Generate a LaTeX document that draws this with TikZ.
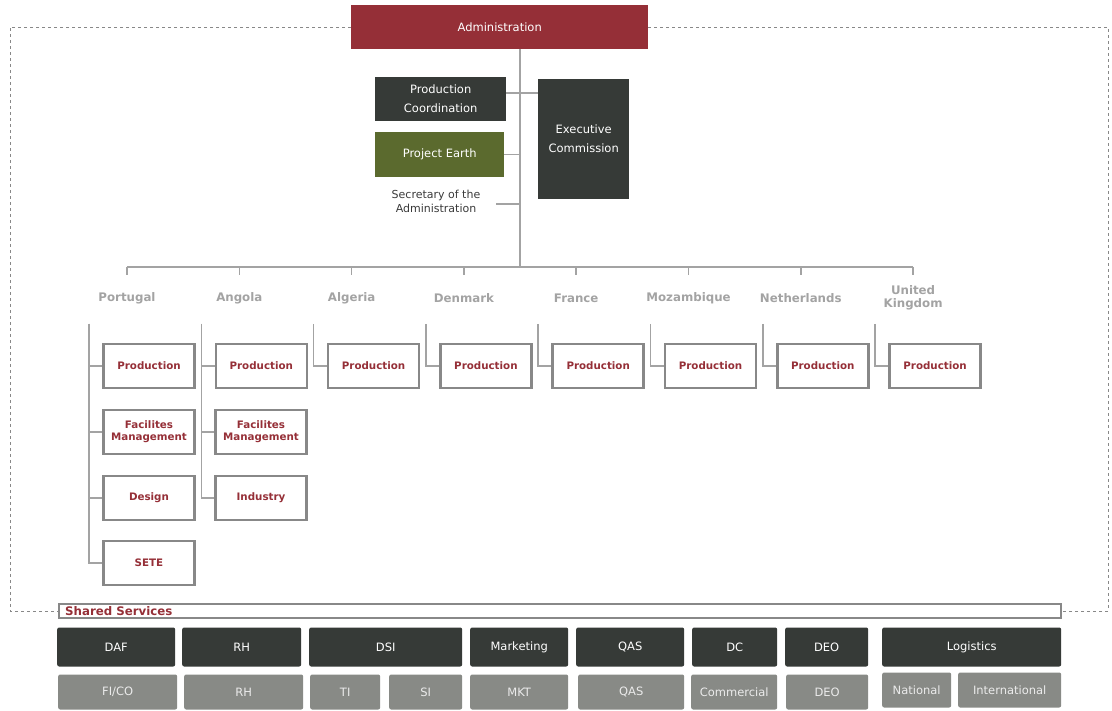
\documentclass[tikz,border=0pt]{standalone}
\usepackage{fontspec}
\setmainfont{DejaVu Sans}
\definecolor{Wine}{HTML}{952F37}
\definecolor{Slate}{HTML}{363A37}
\definecolor{Olive}{HTML}{5B6A2E}
\definecolor{Stone}{HTML}{888A86}
\definecolor{Ash}{HTML}{A3A3A3}
\definecolor{Frame}{HTML}{888888}
\definecolor{Ink}{HTML}{3A3A3A}
\newcommand\textsz[2]{\fontsize{#1}{#2}\selectfont}

\begin{document}
\begin{tikzpicture}[
  x=1pt,
  y=-1pt,
  font=\textsz{11.5}{13},
  every node/.style={inner sep=0pt, align=center},
  dims/.style 2 args={minimum width=#1pt, minimum height=#2pt},
  head/.style={fill=Wine, text=white},
  dark/.style={fill=Slate, text=white},
  earthy/.style={fill=Olive, text=white},
  unit/.style={draw=Frame, line width=2.6pt, text=Wine, dims={91}{44},
    font=\textsz{10.3}{12}\bfseries, align=center},
  country/.style={text=Ash, font=\textsz{11.8}{13}\bfseries},
  service/.style={fill=Slate, text=white, rounded corners=2pt, minimum height=39pt},
  sub/.style={fill=Stone, text=white!92!black, rounded corners=2pt, minimum height=35pt},
  link/.style={Ash, line width=1.5pt},
  frame/.style={Frame, dashed, thin}]
\useasboundingbox (0,0) rectangle (1112,711);
% top of the chart
\node[head, dims={297}{44}, anchor=north west] (admin) at (351,5) {Administration};
\node[dark, dims={131}{44}, anchor=north west, font=\textsz{11.5}{19}]
  (prodco) at (375,77) {Production\\Coordination};
\node[earthy, dims={129}{45}, anchor=north west] (earth) at (375,132) {Project Earth};
\node[dark, dims={91}{120}, anchor=north west, font=\textsz{11.5}{19}]
  (exec) at (538,79) {Executive\\Commission};
\node[text=Ink, font=\textsz{11}{14}] (secretary) at (436,201)
  {Secretary of the\\Administration};
\coordinate (hub) at (520,267);
\draw[link] (admin.south -| hub) -- (hub);
\draw[link] ([yshift=6pt]prodco.east) -- ([yshift=6pt]prodco.east -| exec.west);
\draw[link] (earth) -- (earth -| hub);
\draw[link] ([xshift=16pt,yshift=-3pt]secretary.east) -- ([yshift=-3pt]secretary.east -| hub);
% countries
\foreach \place [count=\i] in {Portugal, Angola, Algeria, Denmark, France,
  Mozambique, Netherlands, United\\Kingdom}{
  \pgfmathsetmacro\x{127+112.3*(\i-1)}
  \coordinate (tick\i) at (\x,267);
  \draw[link] (tick\i) -- ++(0,8);
  \node[country] (land\i) at (\x,298) {\place};
  \coordinate (stem\i) at (\x-38,324);
  \node[unit] (prod\i) at (\x+22,366) {Production};
  \draw[link] (stem\i) |- (prod\i);}
\draw[link] (tick1) -- (tick8);
\node[unit] (care1) at (149,432) {Facilites\\Management};
\node[unit] (design) at (149,498) {Design};
\node[unit] (sete) at (149,563) {SETE};
\node[unit] (care2) at (261,432) {Facilites\\Management};
\node[unit] (industry) at (261,498) {Industry};
\draw[link] (stem1) |- (care1);
\draw[link] (stem1) |- (design);
\draw[link] (stem1) |- (sete);
\draw[link] (stem2) |- (care2);
\draw[link] (stem2) |- (industry);
% shared services
\node[draw=Frame, line width=2pt, dims={1002}{14}, anchor=west] (shared) at (58,611) {};
\node[anchor=west, text=Wine, font=\textsz{11.8}{13}\bfseries] (sharedlabel)
  at ([xshift=7pt]shared.west) {Shared Services};
\draw[frame] (admin.west) -- ++(-341,0) |- (shared.west);
\draw[frame] (admin.east) -- ++(460,0) |- (shared.east);
\foreach \name/\from/\to [count=\i] in {DAF/57/175, RH/182/301, DSI/309/462,
  Marketing/470/568, QAS/576/684, DC/692/777, DEO/785/868, Logistics/882/1061}
  \node[service, anchor=west, minimum width=(\to-\from)*1pt] (svc\i) at (\from,647) {\name};
\foreach \name/\from/\to/\y [count=\i] in {{FI/CO}/58/177/692, RH/184/303/692,
  TI/310/380/692, SI/389/462/692, MKT/470/568/692, QAS/578/684/692,
  Commercial/691/777/692, DEO/786/868/692, National/882/951/690,
  International/958/1061/690}
  \node[sub, anchor=west, minimum width=(\to-\from)*1pt] (part\i) at (\from,\y) {\name};
\end{tikzpicture}
\end{document}
